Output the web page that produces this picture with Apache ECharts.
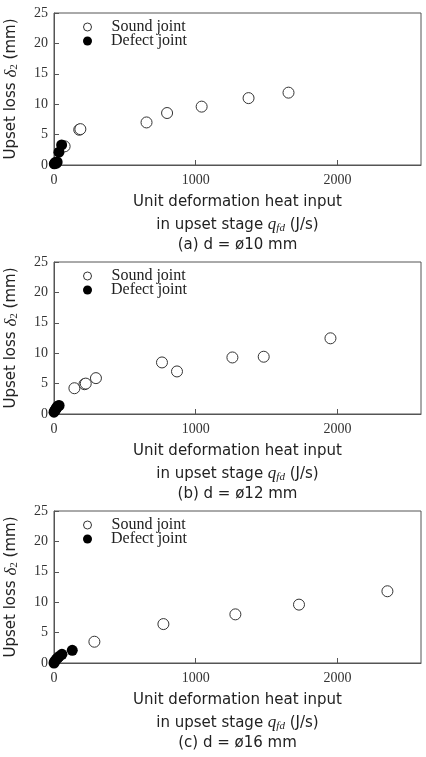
<!DOCTYPE html>
<html>
<head>
<meta charset="utf-8">
<script src="https://cdn.jsdelivr.net/npm/echarts@6/dist/echarts.min.js"></script>
<style>
html,body{margin:0;padding:0;background:#fff;}
#chart{width:426px;height:757px;}
</style>
</head>
<body>
<div id="chart"></div>
<script>
// ---- data ----
const soundA_x = [75, 178, 186, 653, 798, 1042, 1373, 1655];
const soundA_y = [3.07, 5.8, 5.9, 7.0, 8.55, 9.6, 11.0, 11.9];
const defectA_x = [2, 8, 18, 22, 35, 54];
const defectA_y = [0.2, 0.4, 0.3, 0.5, 2.1, 3.3];

const soundB_x = [144, 215, 224, 296, 762, 868, 1259, 1480, 1951];
const soundB_y = [4.24, 4.9, 5.0, 5.9, 8.48, 7.0, 9.3, 9.42, 12.45];
const defectB_x = [0, 5, 10, 15, 20, 28, 36];
const defectB_y = [0.3, 0.5, 0.7, 0.9, 1.1, 1.3, 1.4];

const soundC_x = [285, 772, 1280, 1729, 2353];
const soundC_y = [3.5, 6.4, 8.0, 9.6, 11.8];
const defectC_x = [0, 5, 16, 25, 35, 56, 129];
const defectC_y = [0.0, 0.25, 0.6, 0.8, 1.05, 1.43, 2.08];

const xTicks = [0, 1000, 2000];
const yTicks = [0, 5, 10, 15, 20, 25];
const seriesNames = ['Sound joint', 'Defect joint'];
const captions = ['(a) d = ø10 mm', '(b) d = ø12 mm', '(c) d = ø16 mm'];

const panels = [
  {sx: soundA_x, sy: soundA_y, dx: defectA_x, dy: defectA_y},
  {sx: soundB_x, sy: soundB_y, dx: defectB_x, dy: defectB_y},
  {sx: soundC_x, sy: soundC_y, dx: defectC_x, dy: defectC_y}
];

const zip = (a, b) => a.map((v, i) => [v, b[i]]);

// ---- layout ----
const gridLeft = 54, gridW = 367, gridH = 152;
const gridTops = [13, 262, 511];
const axisColor = '#555';
const sansFont = 'DejaVu Sans';
const serifFont = 'Liberation Serif';

const chart = echarts.init(document.getElementById('chart'), null, {renderer: 'canvas'});

const grids = [], xAxes = [], yAxes = [], series = [], legends = [], graphics = [];

gridTops.forEach((top, i) => {
  grids.push({left: gridLeft, top: top, width: gridW, height: gridH, show: true,
    containLabel: false, outerBoundsMode: 'none',
    borderColor: axisColor, borderWidth: 1, backgroundColor: 'transparent'});
  xAxes.push({
    gridIndex: i, type: 'value', min: xTicks[0], max: 2590, interval: xTicks[1] - xTicks[0],
    axisLine: {show: true, onZero: false, lineStyle: {color: axisColor, width: 1}},
    axisTick: {show: true, inside: true, length: 5, lineStyle: {color: axisColor}},
    splitLine: {show: false},
    axisLabel: {showMaxLabel: false, margin: 8, fontFamily: serifFont, fontSize: 14, color: '#333',
      formatter: v => String(v)}
  });
  yAxes.push({
    gridIndex: i, type: 'value', min: yTicks[0], max: yTicks[yTicks.length - 1], interval: yTicks[1] - yTicks[0],
    axisLine: {show: true, onZero: false, lineStyle: {color: axisColor, width: 1}},
    axisTick: {show: true, inside: true, length: 5, lineStyle: {color: axisColor}},
    splitLine: {show: false},
    axisLabel: {margin: 6, fontFamily: serifFont, fontSize: 14, color: '#333', formatter: v => String(v)},
    name: '{t|Upset loss }{m|δ}{s|2}{t| (mm)}',
    nameLocation: 'middle', nameGap: 34,
    nameTextStyle: {
      rich: {
        t: {fontFamily: sansFont, fontSize: 15, color: '#222'},
        m: {fontFamily: serifFont, fontStyle: 'italic', fontSize: 17, color: '#222'},
        s: {fontFamily: serifFont, fontSize: 11, color: '#222', verticalAlign: 'bottom'}
      }
    }
  });
  const p = panels[i];
  series.push({
    name: seriesNames[0], type: 'scatter', xAxisIndex: i, yAxisIndex: i,
    data: zip(p.sx, p.sy), symbol: 'circle', symbolSize: 11, z: 2,
    itemStyle: {color: '#fff', borderColor: '#333', borderWidth: 1, opacity: 1},
    emphasis: {disabled: true}
  });
  series.push({
    name: seriesNames[1], type: 'scatter', xAxisIndex: i, yAxisIndex: i,
    data: zip(p.dx, p.dy), symbol: 'circle', symbolSize: 11, z: 3,
    itemStyle: {color: '#000', borderColor: '#000', borderWidth: 0, opacity: 1},
    emphasis: {disabled: true}
  });
  const legendText = {fontFamily: serifFont, fontSize: 16, color: '#222', padding: [0, 0, 0, 15]};
  legends.push({
    orient: 'vertical', left: 83, top: top + 6, itemWidth: 8, itemHeight: 8,
    padding: 0, selectedMode: false,
    data: [{name: seriesNames[0], icon: 'circle', itemStyle: {color: '#fff', borderColor: '#333', borderWidth: 1}}],
    textStyle: legendText
  });
  legends.push({
    orient: 'vertical', left: 83, top: top + 20, itemWidth: 9, itemHeight: 9,
    padding: 0, selectedMode: false,
    data: [{name: seriesNames[1], icon: 'circle', itemStyle: {color: '#000', borderWidth: 0}}],
    textStyle: Object.assign({}, legendText, {padding: [0, 0, 0, 14]})
  });
  const bottom = top + gridH;
  const cx = gridLeft + gridW / 2;
  graphics.push({
    type: 'text', x: cx, y: bottom + 37.5,
    style: {text: 'Unit deformation heat input', fontFamily: sansFont, fontSize: 15, fill: '#222',
      align: 'center', verticalAlign: 'middle'}
  });
  graphics.push({
    type: 'text', x: cx, y: bottom + 60,
    style: {text: '{t|in upset stage }{m|q}{s|fd}{t| (J/s)}', align: 'center', verticalAlign: 'middle',
      rich: {
        t: {fontFamily: sansFont, fontSize: 15, fill: '#222'},
        m: {fontFamily: serifFont, fontStyle: 'italic', fontSize: 17, fill: '#222'},
        s: {fontFamily: serifFont, fontStyle: 'italic', fontSize: 11, fill: '#222', verticalAlign: 'bottom'}
      }}
  });
  graphics.push({
    type: 'text', x: cx, y: bottom + 80.5,
    style: {text: captions[i], fontFamily: sansFont, fontSize: 15, fill: '#222',
      align: 'center', verticalAlign: 'middle'}
  });
});

chart.setOption({
  animation: false,
  backgroundColor: '#fff',
  grid: grids, xAxis: xAxes, yAxis: yAxes, series: series, legend: legends,
  graphic: graphics
});
</script>
</body>
</html>
